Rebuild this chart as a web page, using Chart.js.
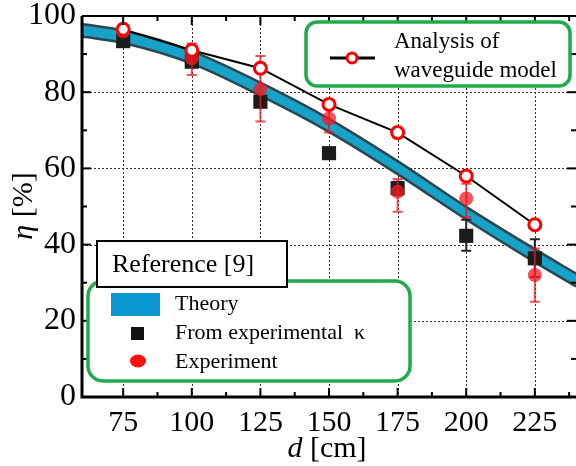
<!DOCTYPE html>
<html>
<head>
<meta charset="utf-8">
<script src="https://cdn.jsdelivr.net/npm/chart.js@4.4.0/dist/chart.umd.min.js"></script>
<style>
  html, body { margin: 0; padding: 0; background: #fff; }
</style>
</head>
<body>
<canvas id="chart" width="576" height="466"></canvas>
<script>
// distances d [cm] of the measurements
const distances = [75, 100, 125, 150, 175, 200, 225];

// theory band (x positions and upper / lower edge of the band)
const theoryX     = [60, 75, 100, 125, 150, 175, 200, 225, 240];
const theoryUpper = [97.9, 96.2, 90.8, 82.5, 73.0, 61.9, 49.9, 38.8, 32.4];
const theoryLower = [94.6, 92.9, 87.5, 79.1, 69.6, 58.5, 46.6, 35.4, 29.0];

// analysis of waveguide model
const analysis = [96.5, 91.0, 86.3, 76.8, 69.4, 58.0, 45.2];

// from experimental kappa (black squares) with error bars
const fromKappa    = [93.4, 88.0, 77.5, 64.0, 54.8, 42.3, 36.4];
const kappaErrLow  = [null, null, null, null, 53.0, 38.4, 31.5];
const kappaErrHigh = [null, null, null, null, 56.5, 46.5, 41.4];

// experiment (red dots) with error bars
const experiment = [96.0, 88.9, 80.8, 73.1, 53.9, 52.1, 32.0];
const expErrLow  = [95.0, 84.5, 72.3, 69.4, 48.6, 47.2, 25.0];
const expErrHigh = [97.0, 92.8, 89.5, 77.0, 57.2, 56.0, 39.0];

// axis ticks
const xTicks = [75, 100, 125, 150, 175, 200, 225];
const xMinor = [87.5, 112.5, 137.5, 162.5, 187.5, 212.5, 237.5];
const yTicks = [0, 20, 40, 60, 80, 100];
const yMinor = [10, 30, 50, 70, 90];

const serif = '"Liberation Serif", "Times New Roman", "DejaVu Serif", serif';
const green = '#1fab4c';

function pts(xs, ys) {
  return xs.map((x, i) => ({ x: x, y: ys[i] }));
}

function drawErrBars(ctx, chart, lo, hi, color, width) {
  const xs = chart.scales.x, ys = chart.scales.y;
  ctx.save();
  ctx.strokeStyle = color;
  ctx.lineWidth = width;
  for (let i = 0; i < distances.length; i++) {
    if (lo[i] == null) continue;
    const px = xs.getPixelForValue(distances[i]);
    const y1 = ys.getPixelForValue(lo[i]);
    const y2 = ys.getPixelForValue(hi[i]);
    ctx.beginPath();
    ctx.moveTo(px, y1); ctx.lineTo(px, y2);
    ctx.moveTo(px - 5, y1); ctx.lineTo(px + 5, y1);
    ctx.moveTo(px - 5, y2); ctx.lineTo(px + 5, y2);
    ctx.stroke();
  }
  ctx.restore();
}

const framePlugin = {
  id: 'frame',
  beforeDatasetsDraw(chart) {
    const ctx = chart.ctx, a = chart.chartArea;
    const xs = chart.scales.x, ys = chart.scales.y;
    ctx.save();
    ctx.strokeStyle = '#333';
    ctx.lineWidth = 1;
    ctx.setLineDash([2, 2]);
    xTicks.forEach(v => {
      const px = Math.round(xs.getPixelForValue(v)) + 0.5;
      ctx.beginPath(); ctx.moveTo(px, a.top); ctx.lineTo(px, a.bottom); ctx.stroke();
    });
    yTicks.forEach(v => {
      if (v == 0 || v == 100) return;
      const py = Math.round(ys.getPixelForValue(v)) + 0.5;
      ctx.beginPath(); ctx.moveTo(a.left, py); ctx.lineTo(a.right, py); ctx.stroke();
    });
    ctx.restore();
  },
  beforeDatasetDraw(chart, args) {
    const ctx = chart.ctx;
    if (args.index == 2) drawErrBars(ctx, chart, kappaErrLow, kappaErrHigh, '#222', 2);
    if (args.index == 3) drawErrBars(ctx, chart, expErrLow, expErrHigh, 'rgba(240,20,30,0.75)', 2);
  },
  afterDatasetsDraw(chart) {
    const ctx = chart.ctx, a = chart.chartArea;
    const xs = chart.scales.x, ys = chart.scales.y;
    ctx.save();
    ctx.strokeStyle = '#000';
    // axis lines
    ctx.lineWidth = 3;
    ctx.beginPath();
    ctx.moveTo(a.left, a.top); ctx.lineTo(a.left, a.bottom); ctx.lineTo(a.right, a.bottom);
    ctx.stroke();
    ctx.lineWidth = 2;
    ctx.beginPath(); ctx.moveTo(a.left, a.top); ctx.lineTo(a.right, a.top); ctx.stroke();
    // inward ticks
    ctx.lineWidth = 2;
    const tick = (x1, y1, x2, y2) => { ctx.beginPath(); ctx.moveTo(x1, y1); ctx.lineTo(x2, y2); ctx.stroke(); };
    xTicks.forEach(v => {
      const px = xs.getPixelForValue(v);
      tick(px, a.bottom, px, a.bottom - 9);
      tick(px, a.top, px, a.top + 9);
    });
    xMinor.forEach(v => {
      const px = xs.getPixelForValue(v);
      tick(px, a.bottom, px, a.bottom - 5);
      tick(px, a.top, px, a.top + 5);
    });
    yTicks.forEach(v => {
      const py = ys.getPixelForValue(v);
      tick(a.left, py, a.left + 9, py);
      tick(a.right, py, a.right - 9, py);
    });
    yMinor.forEach(v => {
      const py = ys.getPixelForValue(v);
      tick(a.left, py, a.left + 5, py);
      tick(a.right, py, a.right - 5, py);
    });
    ctx.restore();
  },
  afterDraw(chart) {
    const ctx = chart.ctx;
    ctx.save();
    ctx.fillStyle = '#000';
    ctx.textBaseline = 'middle';

    // axis titles, italic symbol + upright unit
    function mixed(sym, rest, size) {
      ctx.font = 'italic ' + size + 'px ' + serif;
      const w1 = ctx.measureText(sym).width;
      ctx.font = size + 'px ' + serif;
      const w2 = ctx.measureText(rest).width;
      const x0 = -(w1 + w2) / 2;
      ctx.textAlign = 'left';
      ctx.font = 'italic ' + size + 'px ' + serif;
      ctx.fillText(sym, x0, 0);
      ctx.font = size + 'px ' + serif;
      ctx.fillText(rest, x0 + w1, 0);
    }
    ctx.save();
    ctx.translate(327, 449);
    mixed('d', ' [cm]', 30);
    ctx.restore();
    ctx.save();
    ctx.translate(24, 206);
    ctx.rotate(-Math.PI / 2);
    mixed('\u03b7', ' [%]', 30);
    ctx.restore();

    function roundBox(x, y, w, h, r) {
      ctx.beginPath();
      ctx.roundRect(x, y, w, h, r);
      ctx.fillStyle = '#fff';
      ctx.fill();
      ctx.strokeStyle = green;
      ctx.lineWidth = 3.5;
      ctx.stroke();
    }

    // top right legend
    roundBox(306, 22, 264, 64, 11);
    ctx.strokeStyle = '#000';
    ctx.lineWidth = 3;
    ctx.beginPath(); ctx.moveTo(330, 58); ctx.lineTo(375, 58); ctx.stroke();
    ctx.beginPath(); ctx.arc(352, 58, 5, 0, Math.PI * 2);
    ctx.fillStyle = '#fff'; ctx.fill();
    ctx.strokeStyle = '#ff0000'; ctx.lineWidth = 3; ctx.stroke();
    ctx.fillStyle = '#000';
    ctx.textAlign = 'left';
    ctx.font = '23px ' + serif;
    ctx.fillText('Analysis of', 394, 42);
    ctx.fillText('waveguide model', 394, 71);

    // bottom left legend
    roundBox(88, 281, 322, 100, 15);
    ctx.fillStyle = '#0a96d0';
    ctx.fillRect(111, 293, 49, 23);
    ctx.fillStyle = '#111';
    ctx.fillRect(131, 327, 13, 13);
    ctx.fillStyle = '#ff1010';
    ctx.beginPath(); ctx.ellipse(138, 361, 8, 6.5, 0, 0, Math.PI * 2); ctx.fill();
    ctx.fillStyle = '#000';
    ctx.font = '22px ' + serif;
    ctx.fillText('Theory', 175, 304);
    ctx.fillText('From experimental  \u03ba', 175, 333);
    ctx.fillText('Experiment', 175, 362);

    ctx.fillStyle = '#fff';
    ctx.fillRect(97, 241, 190, 46);
    ctx.strokeStyle = '#000';
    ctx.lineWidth = 2;
    ctx.strokeRect(97, 241, 190, 46);
    ctx.fillStyle = '#000';
    ctx.font = '26px ' + serif;
    ctx.fillText('Reference [9]', 112, 265);

    ctx.restore();
  }
};

function makeChart() {
  new Chart(document.getElementById('chart'), {
    type: 'line',
    data: {
      datasets: [
        {
          label: 'Theory upper',
          data: pts(theoryX, theoryUpper),
          borderColor: '#2c4650',
          borderWidth: 2.5,
          backgroundColor: '#17a2c8',
          fill: '+1',
          pointRadius: 0,
          cubicInterpolationMode: 'monotone',
          order: 5
        },
        {
          label: 'Theory lower',
          data: pts(theoryX, theoryLower),
          borderColor: '#2c4650',
          borderWidth: 2.5,
          fill: false,
          pointRadius: 0,
          cubicInterpolationMode: 'monotone',
          order: 4
        },
        {
          label: 'From experimental kappa',
          data: pts(distances, fromKappa),
          showLine: false,
          pointStyle: 'rect',
          pointRadius: 10,
          pointBackgroundColor: '#1c1c1c',
          pointBorderWidth: 0,
          order: 3
        },
        {
          label: 'Experiment',
          data: pts(distances, experiment),
          showLine: false,
          pointStyle: 'circle',
          pointRadius: 7,
          pointBackgroundColor: 'rgba(245,25,35,0.75)',
          pointBorderWidth: 0,
          order: 2
        },
        {
          label: 'Analysis of waveguide model',
          data: pts(distances, analysis),
          borderColor: '#000',
          borderWidth: 2,
          tension: 0,
          pointRadius: 6,
          pointBorderWidth: 3,
          pointBorderColor: '#ff0000',
          pointBackgroundColor: '#fff',
          order: 1
        }
      ]
    },
    options: {
      responsive: false,
      devicePixelRatio: 1,
      animation: false,
      events: [],
      layout: { autoPadding: false, padding: { top: 16, right: 0, left: 0, bottom: 0 } },
      plugins: { legend: { display: false }, tooltip: { enabled: false } },
      scales: {
        x: {
          type: 'linear',
          min: 60, max: 240,
          afterBuildTicks: s => { s.ticks = xTicks.map(v => ({ value: v })); },
          afterFit: s => { s.height = 69; s.paddingLeft = 0; s.paddingRight = 0; },
          grid: { display: false, drawTicks: false },
          border: { display: false },
          ticks: { color: '#000', padding: 11, font: { family: serif, size: 30, lineHeight: 1 } }
        },
        y: {
          min: 0, max: 100,
          afterBuildTicks: s => { s.ticks = yTicks.map(v => ({ value: v })); },
          afterFit: s => { s.width = 82; s.paddingTop = 0; s.paddingBottom = 0; },
          grid: { display: false, drawTicks: false },
          border: { display: false },
          ticks: { color: '#000', padding: 6, font: { family: serif, size: 32, lineHeight: 1 } }
        }
      }
    },
    plugins: [framePlugin]
  });
}

Promise.all([
  document.fonts.load('30px "Liberation Serif"'),
  document.fonts.load('italic 30px "Liberation Serif"')
]).then(makeChart, makeChart);
</script>
</body>
</html>
